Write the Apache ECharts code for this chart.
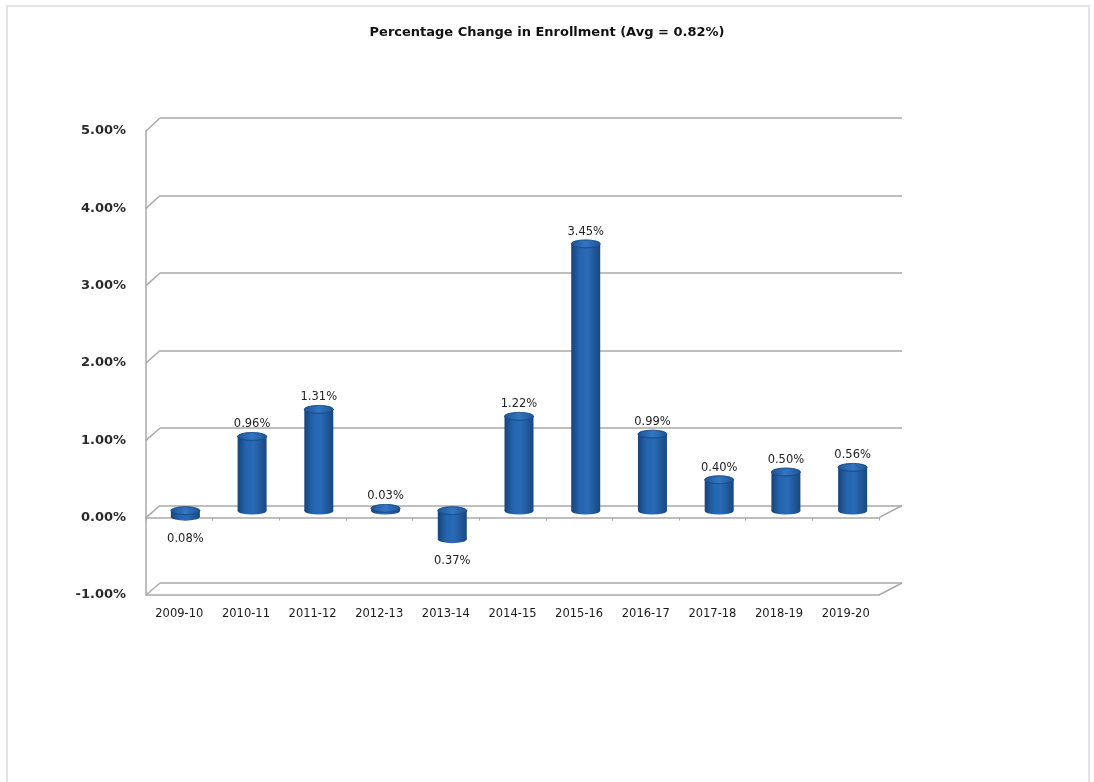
<!DOCTYPE html>
<html>
<head>
<meta charset="utf-8">
<script src="https://cdn.jsdelivr.net/npm/echarts@6/dist/echarts.min.js"></script>
<style>
html,body{margin:0;padding:0;background:#fff;}
#frame{position:absolute;left:6px;top:5px;width:1084px;height:800px;border:2px solid #e4e4e4;box-sizing:border-box;}
#chart{position:absolute;left:0;top:0;width:1094px;height:782px;}
</style>
</head>
<body>
<div id="frame"></div>
<div id="chart"></div>
<script>
// ---- data ----
const titleText = 'Percentage Change in Enrollment (Avg = 0.82%)';
const categories = ['2009-10','2010-11','2011-12','2012-13','2013-14','2014-15','2015-16','2016-17','2017-18','2018-19','2019-20'];
const changes = [-0.08, 0.96, 1.31, 0.03, -0.37, 1.22, 3.45, 0.99, 0.40, 0.50, 0.56];
const yTickValues = [-1, 0, 1, 2, 3, 4, 5];

// ---- layout (pseudo-3D: front axes, back wall, bars in between) ----
const W = 1094, H = 782;
const FRONT = {left:146, right:215, top:131, bottom:187};
const BACK  = {left:160, right:192, top:118, bottom:199};
const BARS  = {left:152, right:208, top:124, bottom:194};
const Y_MIN = yTickValues[0], Y_MAX = yTickValues[yTickValues.length-1], Y_INT = 1;
const BAR_W = 29;
const FONT = '"DejaVu Sans", Verdana, sans-serif';
const GRID_COLOR = '#a9a9a9';

const chart = echarts.init(document.getElementById('chart'), null, {renderer:'canvas'});

const bodyGrad = new echarts.graphic.LinearGradient(0,0,1,0,[
  {offset:0, color:'#17437a'},
  {offset:0.3, color:'#2565af'},
  {offset:0.55, color:'#2a6bb7'},
  {offset:1, color:'#184880'}
]);
const topGrad = new echarts.graphic.LinearGradient(0,0,1,0,[
  {offset:0, color:'#1d5596'},
  {offset:0.5, color:'#3376c1'},
  {offset:1, color:'#1d5596'}
]);

const barData = changes.map(v => ({
  value: v,
  label: {position: v < 0 ? 'bottom' : 'top', distance: v < 0 ? 16 : 6}
}));
const capData = changes.map((v,i) => [i, v]);

function capRenderer(upper){
  return function(params, api){
    const i = api.value(0), v = api.value(1);
    const yv = upper ? Math.max(v,0) : Math.min(v,0);
    const p = api.coord([i, yv]);
    return {
      type:'circle',
      x:p[0], y:p[1], scaleY:0.27,
      shape:{cx:0, cy:0, r:BAR_W/2},
      style:{fill: upper ? topGrad : bodyGrad, stroke: upper ? '#184a86' : null, lineWidth: upper ? 1 : 0}
    };
  };
}

const option = {
  backgroundColor:'transparent',
  animation:false,
  title:{
    text:titleText, left:'center', top:21,
    textStyle:{fontFamily:FONT, fontSize:13, fontWeight:'bold', color:'#111'}
  },
  grid:[
    {left:FRONT.left, right:FRONT.right, top:FRONT.top, bottom:FRONT.bottom},
    {left:BACK.left, right:BACK.right, top:BACK.top, bottom:BACK.bottom},
    {left:BARS.left, right:BARS.right, top:BARS.top, bottom:BARS.bottom}
  ],
  xAxis:[
    {gridIndex:0, type:'category', data:categories, position:'bottom',
     axisLine:{onZero:false, lineStyle:{color:GRID_COLOR, width:1.5}},
     axisTick:{show:false},
     axisLabel:{margin:13, interval:0, fontFamily:FONT, fontSize:11.5, color:'#1a1a1a'},
     splitLine:{show:false}},
    {gridIndex:0, type:'category', data:categories, position:'top',
     axisLine:{onZero:true, lineStyle:{color:GRID_COLOR, width:1.5}},
     axisTick:{show:true, inside:true, length:3, lineStyle:{color:GRID_COLOR}},
     axisLabel:{show:false}, splitLine:{show:false}},
    {gridIndex:1, type:'category', data:categories, show:false},
    {gridIndex:2, type:'category', data:categories, show:false}
  ],
  yAxis:[
    {gridIndex:0, type:'value', min:Y_MIN, max:Y_MAX, interval:Y_INT,
     axisLine:{show:true, lineStyle:{color:GRID_COLOR, width:1.5}},
     axisTick:{show:false},
     splitLine:{show:false},
     axisLabel:{margin:20, formatter:v => v.toFixed(2)+'%', fontFamily:FONT, fontSize:13, fontWeight:'bold', color:'#2a2a2a'}},
    {gridIndex:1, type:'value', min:Y_MIN, max:Y_MAX, interval:Y_INT,
     axisLine:{show:false}, axisTick:{show:false}, axisLabel:{show:false},
     splitLine:{show:true, lineStyle:{color:GRID_COLOR, width:1.5}}},
    {gridIndex:2, type:'value', min:Y_MIN, max:Y_MAX, interval:Y_INT, show:false, splitLine:{show:false}}
  ],
  series:[
    {type:'custom', xAxisIndex:3, yAxisIndex:2, z:2, renderItem:capRenderer(false), data:capData, encode:{x:0,y:1}, silent:true},
    {type:'bar', xAxisIndex:3, yAxisIndex:2, z:3, barWidth:BAR_W, data:barData,
     itemStyle:{color:bodyGrad},
     label:{show:true, fontFamily:FONT, fontSize:11.5, color:'#222',
            formatter:p => Math.abs(p.value).toFixed(2)+'%'}},
    {type:'custom', xAxisIndex:3, yAxisIndex:2, z:4, renderItem:capRenderer(true), data:capData, encode:{x:0,y:1}, silent:true}
  ]
};
chart.setOption(option);

// side-wall / floor edges joining the front axis to the back wall
const yF = v => chart.convertToPixel({yAxisIndex:0}, v);
const yB = v => chart.convertToPixel({yAxisIndex:1}, v);
const edges = [];
yTickValues.forEach(v => {
  edges.push({type:'line', shape:{x1:FRONT.left, y1:yF(v), x2:BACK.left, y2:yB(v)},
    style:{stroke:GRID_COLOR, lineWidth:1.5}, silent:true});
});
[Y_MIN, 0].forEach(v => {
  edges.push({type:'line', shape:{x1:W-FRONT.right, y1:yF(v), x2:W-BACK.right, y2:yB(v)},
    style:{stroke:GRID_COLOR, lineWidth:1.5}, silent:true});
});
chart.setOption({graphic:{elements:edges}});
</script>
</body>
</html>
